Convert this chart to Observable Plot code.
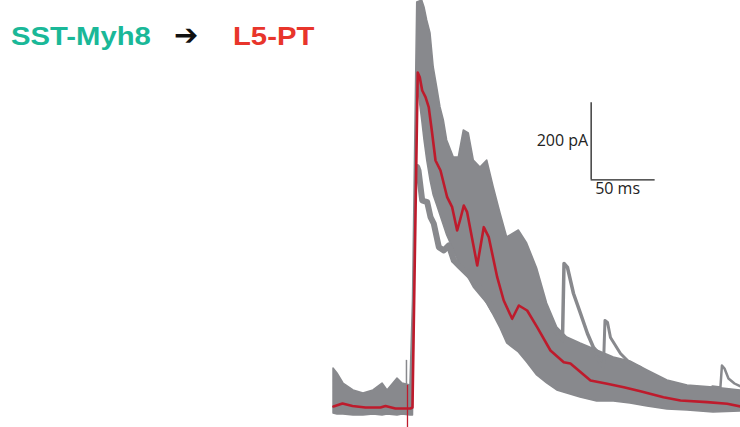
<!DOCTYPE html>
<html>
<head>
<meta charset="utf-8">
<script src="https://cdn.jsdelivr.net/npm/d3@7"></script>
<script src="https://cdn.jsdelivr.net/npm/@observablehq/plot@0.6"></script>
<style>
  html, body { margin: 0; padding: 0; background: #fff; }
  #wrap { position: relative; width: 740px; height: 427px; overflow: hidden; }
  #chart { position: absolute; left: 0; top: 0; }
  .ttl { position: absolute; top: 21px; font-family: "Liberation Sans", Arial, sans-serif; font-weight: bold;
         font-size: 25px; line-height: 30px; white-space: nowrap; transform-origin: left center; transform: scaleX(1.17); }
  #src { left: 11px; color: #1AB898; }
  #arr { left: 174px; color: #111; font-family: "DejaVu Sans", sans-serif; font-size: 29px; transform: scaleX(1); top: 20px; }
  #dst { left: 233px; color: #E8352B; }
</style>
</head>
<body>
<div id="wrap">
  <div id="chart"></div>
  <div class="ttl" id="src">SST-Myh8</div>
  <div class="ttl" id="arr">➔</div>
  <div class="ttl" id="dst">L5-PT</div>
</div>
<script>
// time in ms (stimulus at 0), current in pA
const meanT = [-57.8,-50.8,-43.0,-32.8,-21.1,-17.2,-9.4,2.3,3.9,8.0,9.6,11.5,14.1,16.6,19.3,21.9,25.8,31.0,34.9,38.8,41.4,44.0,46.6,54.5,59.6,63.5,70.1,75.2,81.8,87.0,93.5,101.3,111.7,122.1,127.3,143.0,156.0,169.0,182.0,200.0,213.3,234.1,249.8,260.2];
const meanI = [5.2,13.0,6.5,2.6,2.6,6.5,0,0,2.6,872.7,860.5,826,808.6,782.6,714.3,644.2,618.2,548.8,522.9,462.3,493.5,527.3,509.9,371.4,470.9,444.9,341.0,280.5,233.0,267.5,254.5,211.2,150.6,120.3,116.9,72.7,64.2,55.3,44.9,29.4,20.8,16.4,12.2,5.2];

// envelope of the individual trials
const bandT  = [-57.8,-54.7,-50.0,-42.2,-34.4,-26.6,-19.5,-15.6,-7.8,-3.9,2.3,4.3,7.6,11.5,13.3,15.4,18.0,20.5,23.2,25.8,28.4,31.0,36.2,40.1,44.0,47.9,51.8,57.0,62.3,67.4,72.7,77.9,87.0,93.5,101.3,109.1,117.0,124.8,135.2,148.2,161.2,174.2,187.5,203.1,218.8,239.1,260.2];
const bandHi = [103.9,90.9,64.9,46.8,39.0,46.8,64.9,46.8,77.9,64.9,59.7,280.5,1054.5,1059.7,1041.6,1007.8,974.0,885.7,833.8,781.8,748.1,696.1,651.9,651.9,722.1,714.3,644.2,626.0,644.2,574.0,506.5,444.2,462.3,428.6,363.6,272.7,210.4,184.4,168.8,150.6,132.5,122.1,98.7,72.7,59.7,54.5,46.8];
const bandLo = [-13.0,-15.6,-15.6,-18.2,-18.2,-15.6,-18.2,-15.6,-18.2,-15.6,-18.2,-18.2,851.9,748.1,696.1,644.2,592.2,553.2,527.3,501.3,475.3,449.4,410.4,379.2,358.4,337.7,314.3,293.5,272.7,241.6,207.8,168.8,145.5,119.5,85.7,64.9,46.8,39.0,28.6,18.2,18.2,13.0,5.2,-2.6,-5.2,-10.4,-7.8];

// individual trials that leave the envelope
const lowT = [7.6,8.6,11.5,15.4,18.0,20.5,24.5,28.4,32.3,36.2,41.4,46.6,54.5,59.4,67.2];
const lowI = [626.8,618.2,540.3,535.8,496.9,480.5,419.0,410.4,423.4,384.4,367.0,350.6,324.7,298.7,254.5];
const bump1T = [103.9,113.3,121.1,122.3,125.0,129.7,135.2,140.6,145.3,150.8];
const bump1I = [280.5,207.8,176.6,376.6,366.2,298.7,246.8,194.8,158.4,137.7];
const bump2T = [146.9,153.1,154.3,156.3,158.6,166.4,174.2,182.0];
const bump2I = [135.1,106.5,228.6,223.4,184.4,142.9,116.9,106.5];
const bump3T = [238.3,244.5,245.7,247.7,250.8,255.5,260.2];
const bump3I = [57.1,54.5,111.7,103.9,77.9,64.9,57.1];

// stimulus artefact
const artefactGray = {t: -0.8, from: 0, to: 125};
const artefactRed = {t: 0, from: -50, to: 60};

// scale bar
const barT = 143.5, barI = 594, barMs = 50, barPa = 200;
const barLabels = ["200 pA", "50 ms"];

const band = bandT.map((t, i) => ({t, hi: bandHi[i], lo: bandLo[i]}));
const mean = meanT.map((t, i) => ({t, I: meanI[i]}));
const toRows = (T, I) => T.map((t, i) => ({t, I: I[i]}));
const low = toRows(lowT, lowI);
const b1 = toRows(bump1T, bump1I);
const b2 = toRows(bump2T, bump2I);
const b3 = toRows(bump3T, bump3I);

const gray = "#88898D";
const red = "#BE1B2C";

const plot = Plot.plot({
  width: 740,
  height: 427,
  margin: 0,
  x: {domain: [-318, 260.2], axis: null},
  y: {domain: [-49.4, 1059.7], axis: null},
  style: {background: "transparent"},
  marks: [
    Plot.areaY(band, {x: "t", y1: "lo", y2: "hi", fill: gray, stroke: gray, strokeWidth: 1.5, curve: "linear"}),
    Plot.line(low, {x: "t", y: "I", stroke: gray, strokeWidth: 6}),
    Plot.line(b1, {x: "t", y: "I", stroke: gray, strokeWidth: 3.5}),
    Plot.line(b2, {x: "t", y: "I", stroke: gray, strokeWidth: 3}),
    Plot.line(b3, {x: "t", y: "I", stroke: gray, strokeWidth: 2.5}),
    Plot.ruleX([artefactGray], {x: "t", y1: "from", y2: "to", stroke: gray, strokeWidth: 1.5}),
    Plot.ruleX([artefactRed], {x: "t", y1: "from", y2: "to", stroke: red, strokeWidth: 1.3}),
    Plot.line(mean, {x: "t", y: "I", stroke: red, strokeWidth: 2.6, strokeLinejoin: "round"}),
    // scale bar
    Plot.ruleX([barT], {y1: barI, y2: barI + barPa, stroke: "#222", strokeWidth: 1.3}),
    Plot.ruleY([barI], {x1: barT, x2: barT + barMs, stroke: "#222", strokeWidth: 1.3}),
    Plot.text([barLabels[0]], {x: barT, y: barI + barPa / 2, dx: -3, textAnchor: "end", fontSize: 16, fill: "#222", fontFamily: "Open Sans"}),
    Plot.text([barLabels[1]], {x: barT, y: barI, dx: 4, dy: 3, textAnchor: "start", lineAnchor: "top", fontSize: 16, fill: "#222", fontFamily: "Open Sans"})
  ]
});
document.getElementById("chart").appendChild(plot);
</script>
</body>
</html>
